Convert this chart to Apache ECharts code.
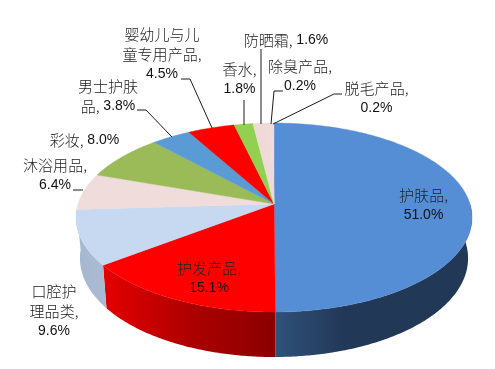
<!DOCTYPE html>
<html><head><meta charset="utf-8">
<style>html,body{margin:0;padding:0;background:#fff}#c{width:495px;height:369px}</style>
<script src="https://cdn.jsdelivr.net/npm/echarts@6/dist/echarts.min.js"></script>
</head><body><div id="c"></div>
<script>
// data
var categories = ['护肤品','护发产品','口腔护\n理品类','沐浴用品','彩妆','男士护肤\n品','婴幼儿与儿\n童专用产品','香水','防晒霜','除臭产品','脱毛产品'];
var shares = [51.0,15.1,9.6,6.4,8.0,3.8,4.5,1.8,1.6,0.2,0.2];
var valueBreak = ['\n','\n','\n','\n',' ',' ','\n','\n',' ','\n','\n'];
// styles
var topColors = ['#558ED5','#FF0000','#C6D9F0','#EFDCDB','#9BBB59','#5B9BD5','#FF0000','#92D050','#F0DAD8','#F0DAD8','#F0DAD8'];
var wallStops = [
  [[276,'#2F5179'],[345,'#223857'],[480,'#223857']],
  [[100,'#E60000'],[150,'#C80000'],[200,'#A80000'],[276,'#8B0000']],
  [[80,'#A6B8D0'],[105,'#AABBD4']]
];
// label layout: centre of the text block and its leader line
var labelSpots = [[423.5,205],[209,278],[54,311.5],[55,175],[84.5,140],[108,96.5],[162,54.5],[239.5,79.5],[286,40],[300,76.5],[376.5,98.5]];
var leaders = [null,null,null,[[73,190],[83,190]],null,[[137,110],[146,110],[172,137]],[[181,79],[190,79],[212,128]],[[244,100],[244,125]],[[261,49],[261,124]],[[283,91],[274,91],[271,124]],[[342,94],[334,94],[273,124]]];

// perspective disc geometry
var cx=274, apexY=204, R=196, H=92.57, k=0.1429;
function project(a){ // a: radians clockwise from top
  var s=Math.cos(a), c=Math.sin(a), w=1+k*s;
  return {x:cx+R*c/w, y:apexY-H*s/w, s:s};
}
function lower(p){
  return [cx+(p.x-cx)*0.98, p.y+40-5*p.s];
}
var total=shares.reduce(function(a,b){return a+b},0);
var starts=[], run=0;
shares.forEach(function(v){starts.push(run); run+=v;});
function angle(v){return v/total*Math.PI*2;}
function arc(i){
  var a0=angle(starts[i]), a1=angle(starts[i]+shares[i]);
  var n=Math.max(2,Math.ceil((a1-a0)/0.01)), pts=[];
  for(var j=0;j<=n;j++) pts.push(project(a0+(a1-a0)*j/n));
  return pts;
}
function topItem(params,api){
  var i=params.dataIndex, pts=arc(i).map(function(p){return [p.x,p.y]});
  pts.unshift([cx,apexY]);
  var col=topColors[i];
  return {type:'polygon',shape:{points:pts},style:{fill:col,stroke:col,lineWidth:0.4}};
}
function wallItem(params,api){
  var i=params.dataIndex;
  if(i>=wallStops.length) return null;
  var pts=arc(i).filter(function(p){return p.s<0.02});
  if(pts.length<2) return null;
  var poly=pts.map(function(p){return [p.x,p.y]});
  var low=pts.map(lower).reverse();
  var st=wallStops[i], x0=st[0][0], x1=st[st.length-1][0];
  var grad=new echarts.graphic.LinearGradient(x0,0,x1,0,st.map(function(d){return {offset:(d[0]-x0)/(x1-x0),color:d[1]}}),true);
  return {type:'polygon',shape:{points:poly.concat(low)},style:{fill:grad,stroke:null}};
}
function richText(s){
  return s.split('\n').map(function(line){
    return line.replace(/([^\x00-\x7f]+,?)|([0-9.]+%)/g,function(m,a,b){return a?'{c|'+a+'}':'{n|'+b+'}'});
  }).join('\n');
}
function labelItem(params,api){
  var i=params.dataIndex, children=[];
  var txt=categories[i]+','+valueBreak[i]+shares[i].toFixed(1)+'%';
  if(leaders[i]) children.push({type:'polyline',shape:{points:leaders[i]},style:{fill:null,stroke:'#1c1c1c',lineWidth:1}});
  children.push({type:'text',style:{text:richText(txt),x:labelSpots[i][0],y:labelSpots[i][1],align:'center',verticalAlign:'middle',
    font:'14px "Liberation Sans"',fill:'#111',
    rich:{c:{fontFamily:'"Noto Sans CJK SC"',fontSize:15,fontWeight:300,lineHeight:20,fill:'#222'},
          n:{fontFamily:'"Liberation Sans"',fontSize:14,lineHeight:20,fill:'#111'}}}});
  return {type:'group',children:children};
}
var seriesData=categories.map(function(c,i){return {name:c,value:shares[i]}});
var chart=echarts.init(document.getElementById('c'),null,{renderer:'canvas'});
chart.setOption({
  animation:false,
  backgroundColor:'#fff',
  series:[
    {type:'custom',coordinateSystem:'none',z:1,silent:true,renderItem:wallItem,data:seriesData},
    {type:'custom',coordinateSystem:'none',z:2,silent:true,renderItem:topItem,data:seriesData},
    {type:'custom',coordinateSystem:'none',z:3,silent:true,renderItem:labelItem,data:seriesData}
  ]
});
</script></body></html>
